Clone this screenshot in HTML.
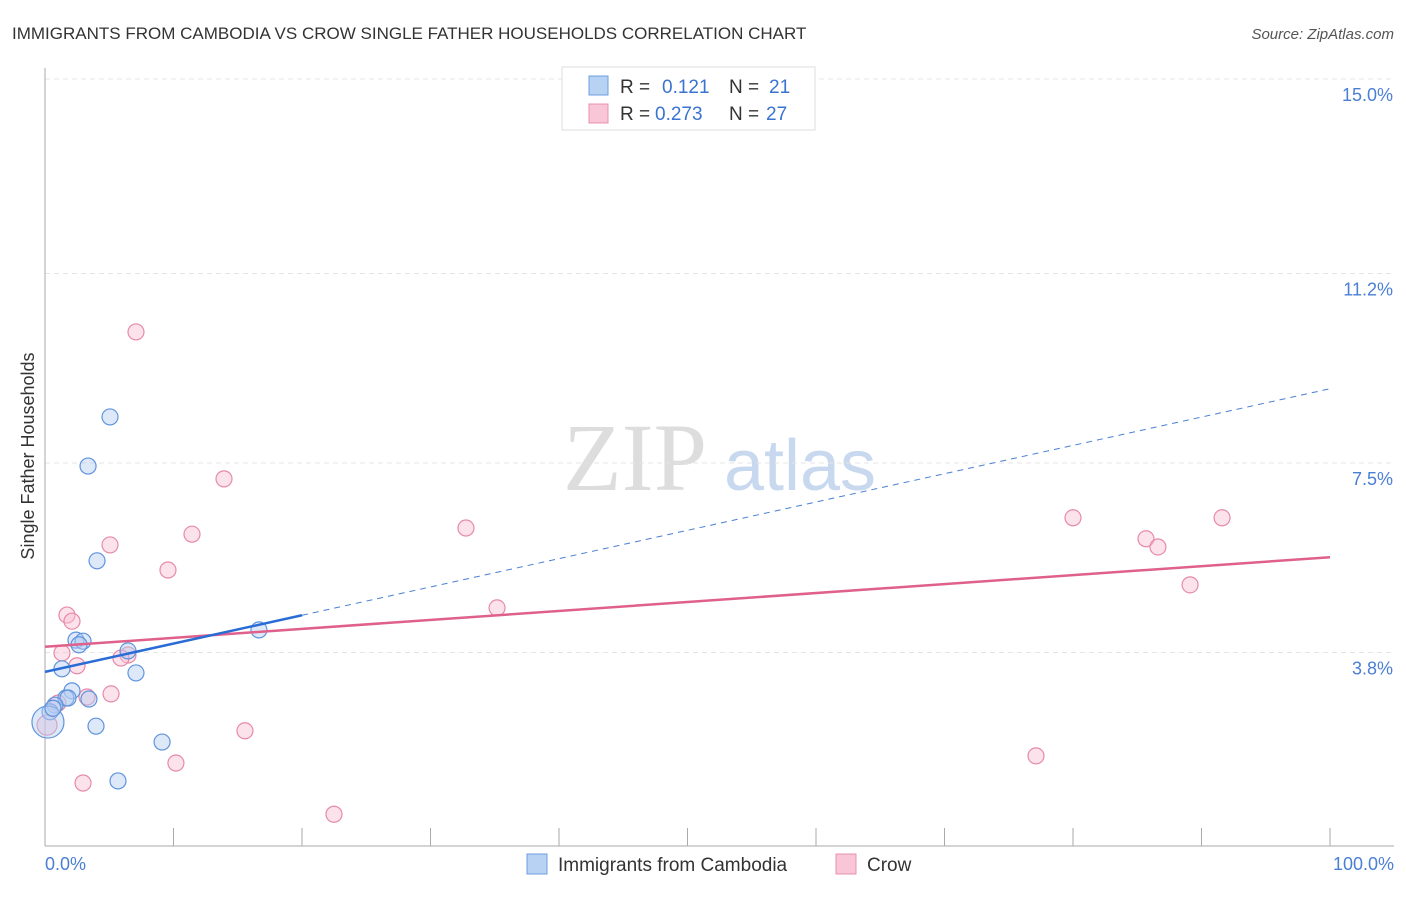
<!DOCTYPE html>
<html><head><meta charset="utf-8"><style>
body{margin:0;background:#fff;font-family:"Liberation Sans",sans-serif}
</style></head><body>
<svg id="c" width="1406" height="892" xmlns="http://www.w3.org/2000/svg" font-family="Liberation Sans, sans-serif">
<text x="12" y="39" font-size="17" fill="#333">IMMIGRANTS FROM CAMBODIA VS CROW SINGLE FATHER HOUSEHOLDS CORRELATION CHART</text>
<text x="1394" y="39" font-size="15" fill="#555" text-anchor="end" font-style="italic">Source: ZipAtlas.com</text>
<g><text x="635" y="490" font-size="96" fill="#ddd" text-anchor="middle" font-family="Liberation Serif, serif">ZIP</text><text x="800" y="490" font-size="72" fill="#c8d8ee" text-anchor="middle">atlas</text></g>
<g id="grid"></g><g id="axes"></g><g id="marks"></g>
<text transform="translate(34,456) rotate(-90)" font-size="18" fill="#333" text-anchor="middle">Single Father Households</text>
<text x="45" y="870" font-size="18" fill="#4a7fd4">0.0%</text>
<text x="1394" y="870" font-size="18" fill="#4a7fd4" text-anchor="end">100.0%</text>
<g>
<rect x="562" y="67" width="253" height="63" fill="#fff" stroke="#ddd"/>
<rect x="589" y="76" width="19" height="19" fill="#b8d2f4" stroke="#6c9ee0"/>
<rect x="589" y="104" width="19" height="19" fill="#f8c6d6" stroke="#e990ae"/>
<text x="620" y="93" font-size="19" fill="#333">R = </text><text x="662" y="93" font-size="19" fill="#3b73d0">0.121</text>
<text x="729" y="93" font-size="19" fill="#333">N = </text><text x="769" y="93" font-size="19" fill="#3b73d0">21</text>
<text x="620" y="120" font-size="19" fill="#333">R = </text><text x="655" y="120" font-size="19" fill="#3b73d0">0.273</text>
<text x="729" y="120" font-size="19" fill="#333">N = </text><text x="766" y="120" font-size="19" fill="#3b73d0">27</text>
</g>
<g>
<rect x="527" y="854" width="20" height="20" fill="#b8d2f4" stroke="#6c9ee0"/>
<text x="558" y="871" font-size="19" fill="#333">Immigrants from Cambodia</text>
<rect x="836" y="854" width="20" height="20" fill="#f8c6d6" stroke="#e990ae"/>
<text x="867" y="871" font-size="19" fill="#333">Crow</text>
</g>
</svg>
<script>
const yTicks=[3.8,7.5,11.2,15.0];
const yTickLabels=["3.8%","7.5%","11.2%","15.0%"];
const xTicks=[0,10,20,30,40,50,60,70,80,90,100];
const blueX=[5.06,3.35,4.05,16.65,2.41,2.96,2.65,6.46,1.32,7.08,2.10,1.63,1.79,3.42,0.78,0.39,3.97,9.11,5.68,0.23,0.62];
const blueY=[8.40,7.44,5.59,4.24,4.04,4.02,3.95,3.83,3.48,3.40,3.05,2.91,2.91,2.89,2.77,2.64,2.36,2.05,1.29,2.44,2.71];
const blueR=[8,8,8,8,8,8,8,8,8,8,8,8,8,8,8,8,8,8,8,16,8];
const pinkX=[7.08,13.93,32.76,11.44,5.06,9.57,35.18,1.71,2.10,1.32,6.46,5.91,2.49,5.14,3.27,1.01,15.56,10.19,2.96,22.49,80.0,85.68,86.61,89.11,91.6,77.12,0.16];
const pinkY=[10.06,7.19,6.23,6.11,5.90,5.41,4.67,4.53,4.41,3.79,3.75,3.69,3.54,2.99,2.93,2.81,2.27,1.64,1.25,0.64,6.43,6.02,5.86,5.12,6.43,1.78,2.38];
const pinkR=[8,8,8,8,8,8,8,8,8,8,8,8,8,8,8,8,8,8,8,8,8,8,8,8,8,8,10];
const blueTrend=[3.42,8.95];
const pinkTrend=[3.91,5.66];
const blueSolidEnd=20;
const NS="http://www.w3.org/2000/svg";
const X=v=>45+v*12.85, Y=v=>847-v*51.2;
function mk(t,a,p){const e=document.createElementNS(NS,t);for(const k in a)e.setAttribute(k,a[k]);p.appendChild(e);return e;}
const grid=document.getElementById('grid'),axes=document.getElementById('axes'),marks=document.getElementById('marks');
yTicks.forEach((v,i)=>{
 const l=mk('line',{x1:45,x2:1394,y1:Y(v),y2:Y(v),stroke:'#e4e4e4','stroke-dasharray':'5,4'},grid);
 
 
 const t=mk('text',{x:1393,y:Y(v)+22,'font-size':18,fill:'#4a7fd4','text-anchor':'end'},grid);
 t.textContent=yTickLabels[i];
 
 
});
const ya=mk('line',{x1:45,x2:45,y1:68,y2:846,stroke:'#aaa'},axes);


const xa=mk('line',{x1:45,x2:1394,y1:846,y2:846,stroke:'#aaa'},axes);


xTicks.forEach(v=>{const t=mk('line',{x1:X(v),x2:X(v),y1:828,y2:846,stroke:'#aaa'},axes);
 
 });
function pts(xs,ys,rs,fill,stroke,name){xs.forEach((x,i)=>{const c=mk('circle',{cx:X(x),cy:Y(ys[i]),r:rs[i],fill:fill,'fill-opacity':0.45,stroke:stroke,'stroke-width':1.2},marks);
 
 });}
pts(pinkX,pinkY,pinkR,'#f8bfd2','#e68aaa','crow-point');
pts(blueX,blueY,blueR,'#b3cdf2','#5f93dd','cambodia-point');
const by=x=>blueTrend[0]+(blueTrend[1]-blueTrend[0])*x/100;
const bd=mk('line',{x1:X(blueSolidEnd),y1:Y(by(blueSolidEnd)),x2:X(100),y2:Y(by(100)),stroke:'#4a7fd4','stroke-dasharray':'6,5','stroke-width':1},marks);


const pl=mk('line',{x1:X(0),y1:Y(pinkTrend[0]),x2:X(100),y2:Y(pinkTrend[1]),stroke:'#e0608c','stroke-width':2.5},marks);


const bl=mk('line',{x1:X(0),y1:Y(by(0)),x2:X(blueSolidEnd),y2:Y(by(blueSolidEnd)),stroke:'#2a6cd6','stroke-width':2.5},marks);


</script>
</body></html>
